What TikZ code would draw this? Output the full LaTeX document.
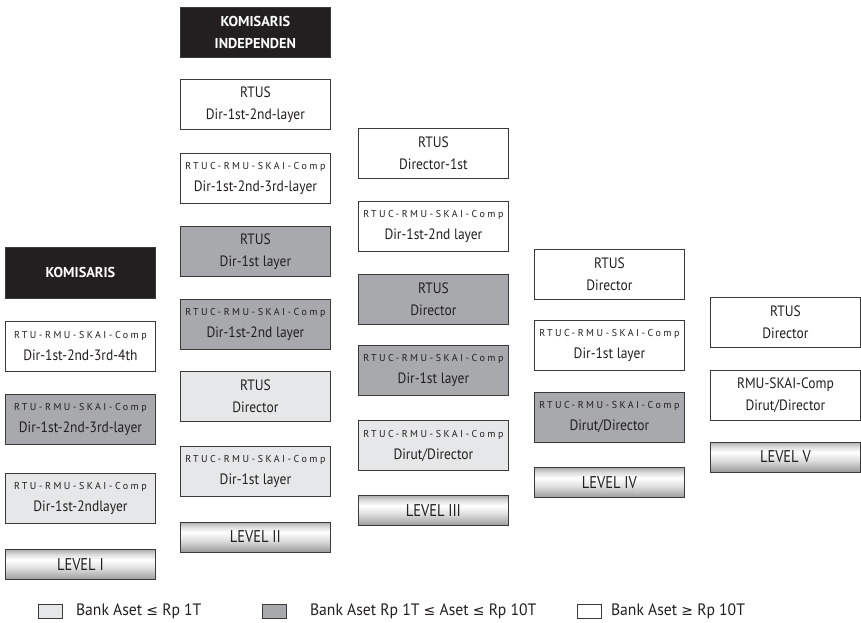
\documentclass[tikz,border=0pt]{standalone}
\usepackage{fontspec}
\setmainfont{PT Sans}
\newfontfamily\boxfont[FakeStretch=0.9]{PT Sans}
\newfontfamily\levelfont[FakeStretch=0.85]{PT Sans}
\newfontfamily\legendfont[FakeStretch=0.95]{PT Sans}
\newfontfamily\spacedfont[LetterSpace=25]{PT Sans}
\newfontfamily\symfont{DejaVu Sans}
\usetikzlibrary{positioning}

\definecolor{linecol}{HTML}{3A3A3A}
\definecolor{textcol}{HTML}{231F20}
\definecolor{headfill}{HTML}{231F20}
\definecolor{midfill}{HTML}{A7A9AC}
\definecolor{lowfill}{HTML}{E6E7E8}

% metallic look of the level bars
\pgfdeclareverticalshading{levelshade}{100bp}{color(0bp)=(black!40); color(25bp)=(black!40); color(33bp)=(black!28); color(45bp)=(black!12); color(58bp)=(white); color(68bp)=(black!15); color(75bp)=(black!32); color(100bp)=(black!32)}

\newcommand{\comp}[1]{{\spacedfont\fontsize{10}{22}\selectfont #1}}
\newcommand{\lesym}{{\symfont\fontsize{14}{16}\selectfont ≤}}
\newcommand{\gesym}{{\symfont\fontsize{14}{16}\selectfont ≥}}

\begin{document}
\begin{tikzpicture}[x=1pt, y=-1pt,
    box/.style = {draw=linecol, line width=0.8pt, minimum width=150pt, minimum height=50pt, inner sep=0pt, align=center, text=textcol, font=\boxfont\fontsize{15}{22}\selectfont},
    highbox/.style = {box, fill=white},
    midbox/.style = {box, fill=midfill},
    lowbox/.style = {box, fill=lowfill},
    headbox/.style = {box, fill=headfill, text=white, font=\bfseries\fontsize{14.3}{22}\selectfont},
    levelbox/.style = {draw=linecol, line width=0.8pt, minimum width=150pt, minimum height=30pt, shading=levelshade, text=textcol, font=\levelfont\fontsize{17}{18}\selectfont},
    legbox/.style = {draw=linecol, line width=0.8pt, minimum width=24pt, minimum height=14pt, inner sep=0pt},
    legtext/.style = {inner sep=0pt, text=textcol, font=\legendfont\fontsize{16.5}{20}\selectfont}
]
\useasboundingbox (0,0) rectangle (861,622);

% level I
\node (kom) [headbox, minimum height=51pt, anchor=north west] at (5,247) {KOMISARIS};
\node (c1a) [highbox, below=22pt of kom] {\comp{RTU-RMU-SKAI-Comp}\\Dir-1st-2nd-3rd-4th};
\node (c1b) [midbox, below=22pt of c1a] {\comp{RTU-RMU-SKAI-Comp}\\Dir-1st-2nd-3rd-layer};
\node (c1c) [lowbox, below=29pt of c1b] {\comp{RTU-RMU-SKAI-Comp}\\Dir-1st-2ndlayer};
\node (lvl1) [levelbox, below=25pt of c1c] {LEVEL I};

% level II
\node (komind) [headbox, anchor=north west] at (180,7) {KOMISARIS\\INDEPENDEN};
\node (c2a) [highbox, below=21pt of komind] {RTUS\\Dir-1st-2nd-layer};
\node (c2b) [highbox, below=23pt of c2a] {\comp{RTUC-RMU-SKAI-Comp}\\Dir-1st-2nd-3rd-layer};
\node (c2c) [midbox, below=23pt of c2b] {RTUS\\Dir-1st layer};
\node (c2d) [midbox, below=22pt of c2c] {\comp{RTUC-RMU-SKAI-Comp}\\Dir-1st-2nd layer};
\node (c2e) [lowbox, below=21pt of c2d] {RTUS\\Director};
\node (c2f) [lowbox, below=24pt of c2e] {\comp{RTUC-RMU-SKAI-Comp}\\Dir-1st layer};
\node (lvl2) [levelbox, below=25pt of c2f] {LEVEL II};

% level III
\node (c3a) [highbox, anchor=north west] at (358,128) {RTUS\\Director-1st};
\node (c3b) [highbox, below=22pt of c3a] {\comp{RTUC-RMU-SKAI-Comp}\\Dir-1st-2nd layer};
\node (c3c) [midbox, below=22pt of c3b] {RTUS\\Director};
\node (c3d) [midbox, below=21pt of c3c] {\comp{RTUC-RMU-SKAI-Comp}\\Dir-1st layer};
\node (c3e) [lowbox, below=24pt of c3d] {\comp{RTUC-RMU-SKAI-Comp}\\Dirut/Director};
\node (lvl3) [levelbox, below=24pt of c3e] {LEVEL III};

% level IV
\node (c4a) [highbox, anchor=north west] at (534,249) {RTUS\\Director};
\node (c4b) [highbox, below=20pt of c4a] {\comp{RTUC-RMU-SKAI-Comp}\\Dir-1st layer};
\node (c4c) [midbox, below=21pt of c4b] {\comp{RTUC-RMU-SKAI-Comp}\\Dirut/Director};
\node (lvl4) [levelbox, below=25pt of c4c] {LEVEL IV};

% level V
\node (c5a) [highbox, anchor=north west] at (710,297) {RTUS\\Director};
\node (c5b) [highbox, below=22pt of c5a] {RMU-SKAI-Comp\\Dirut/Director};
\node (lvl5) [levelbox, below=21pt of c5b] {LEVEL V};

% legend
\node (leglow) [legbox, fill=lowfill, anchor=north west] at (38,604) {};
\node (leglowtxt) [legtext, right=13pt of leglow] {Bank Aset \lesym{} Rp 1T};
\node (legmid) [legbox, fill=midfill, anchor=north west] at (262,604) {};
\node (legmidtxt) [legtext, right=23pt of legmid] {Bank Aset Rp 1T \lesym{} Aset \lesym{} Rp 10T};
\node (leghigh) [legbox, fill=white, anchor=north west] at (577,604) {};
\node (leghightxt) [legtext, right=9pt of leghigh] {Bank Aset \gesym{} Rp 10T};
\end{tikzpicture}
\end{document}
